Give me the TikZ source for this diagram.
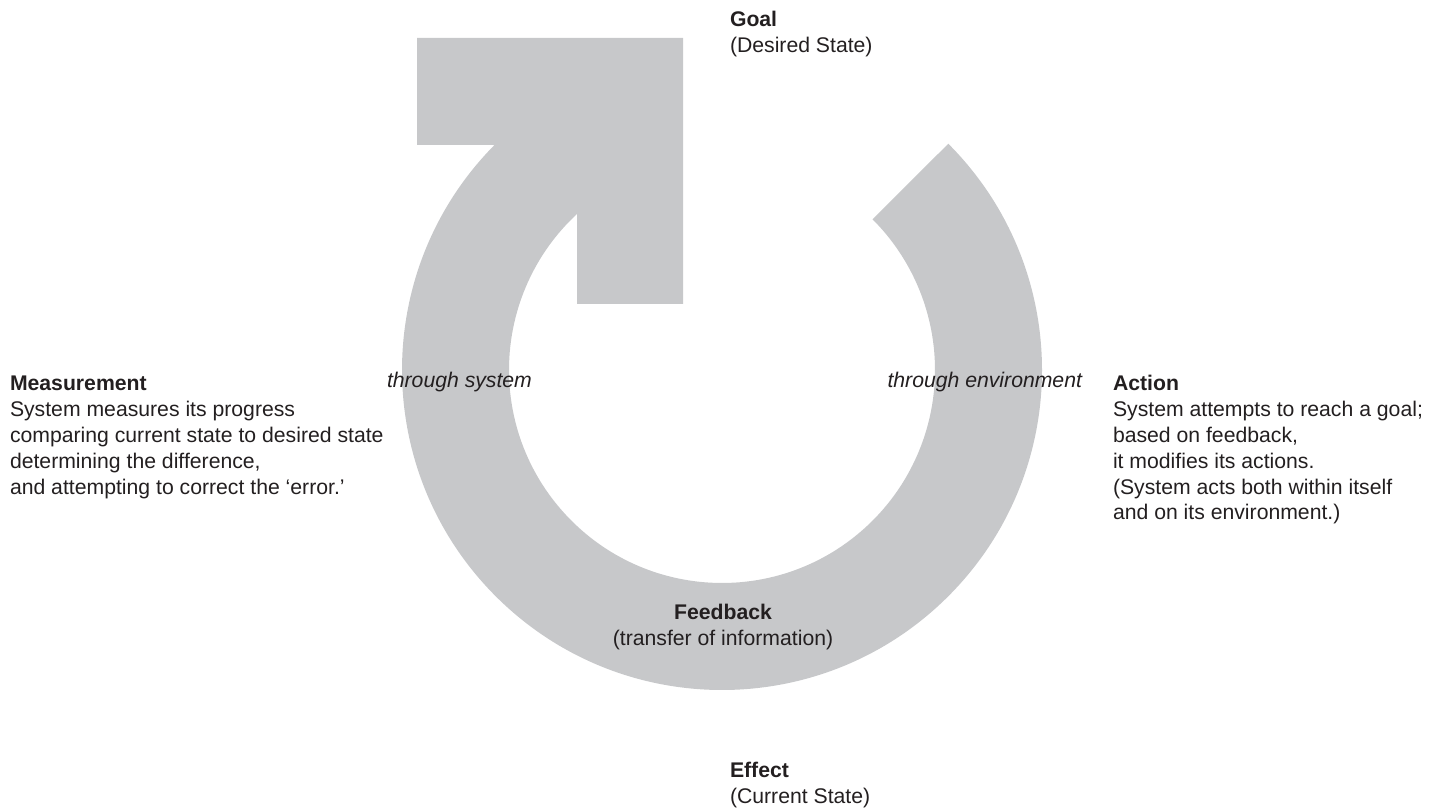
\documentclass[tikz,border=0pt]{standalone}
\usepackage{fontspec}
\setmainfont{Liberation Sans}
\definecolor{ringgrey}{RGB}{199,200,202}
\definecolor{ink}{RGB}{35,31,32}
\begin{document}
\begin{tikzpicture}[x=1pt,y=1pt,
  lbl/.style={inner sep=0pt, outer sep=0pt, text=ink, font=\fontsize{21.2}{25.8}\selectfont},
  ringfill/.style={fill=ringgrey, draw=none}
]
\useasboundingbox (0,0) rectangle (1442,810);
% circular arrow (ring with corner arrowhead)
\fill[ringfill] (417,772) -- (683,772) -- (683,506) -- (577,506) -- (577,596.03)
  arc[start angle=132.90, end angle=405, radius=213]
  -- (948.27,666.27)
  arc[start angle=45, end angle=-224.68, radius=320]
  -- (417,665) -- cycle;
% labels
\node[lbl, anchor=base west] (goal) at (730,783)
  {\begin{tabular}[t]{@{}l@{}}\textbf{Goal}\\(Desired State)\end{tabular}};
\node[lbl, anchor=base west] (effect) at (730,32)
  {\begin{tabular}[t]{@{}l@{}}\textbf{Effect}\\(Current State)\end{tabular}};
\node[lbl, anchor=base] (feedback) at (723,190)
  {\begin{tabular}[t]{@{}c@{}}\textbf{Feedback}\\(transfer of information)\end{tabular}};
\node[lbl, anchor=base west] (measure) at (10,419)
  {\begin{tabular}[t]{@{}l@{}}\textbf{Measurement}\\System measures its progress\\comparing current state to desired state\\determining the difference,\\and attempting to correct the ‘error.’\end{tabular}};
\node[lbl, anchor=base west] (action) at (1113,419)
  {\begin{tabular}[t]{@{}l@{}}\textbf{Action}\\System attempts to reach a goal;\\based on feedback,\\it modifies its actions.\\(System acts both within itself\\and on its environment.)\end{tabular}};
\node[lbl, anchor=base west, font=\fontsize{21.2}{25.8}\selectfont\itshape] (thrsys) at (387,422) {through system};
\node[lbl, anchor=base east, font=\fontsize{21.2}{25.8}\selectfont\itshape] (threnv) at (1082,422) {through environment};
\end{tikzpicture}
\end{document}
